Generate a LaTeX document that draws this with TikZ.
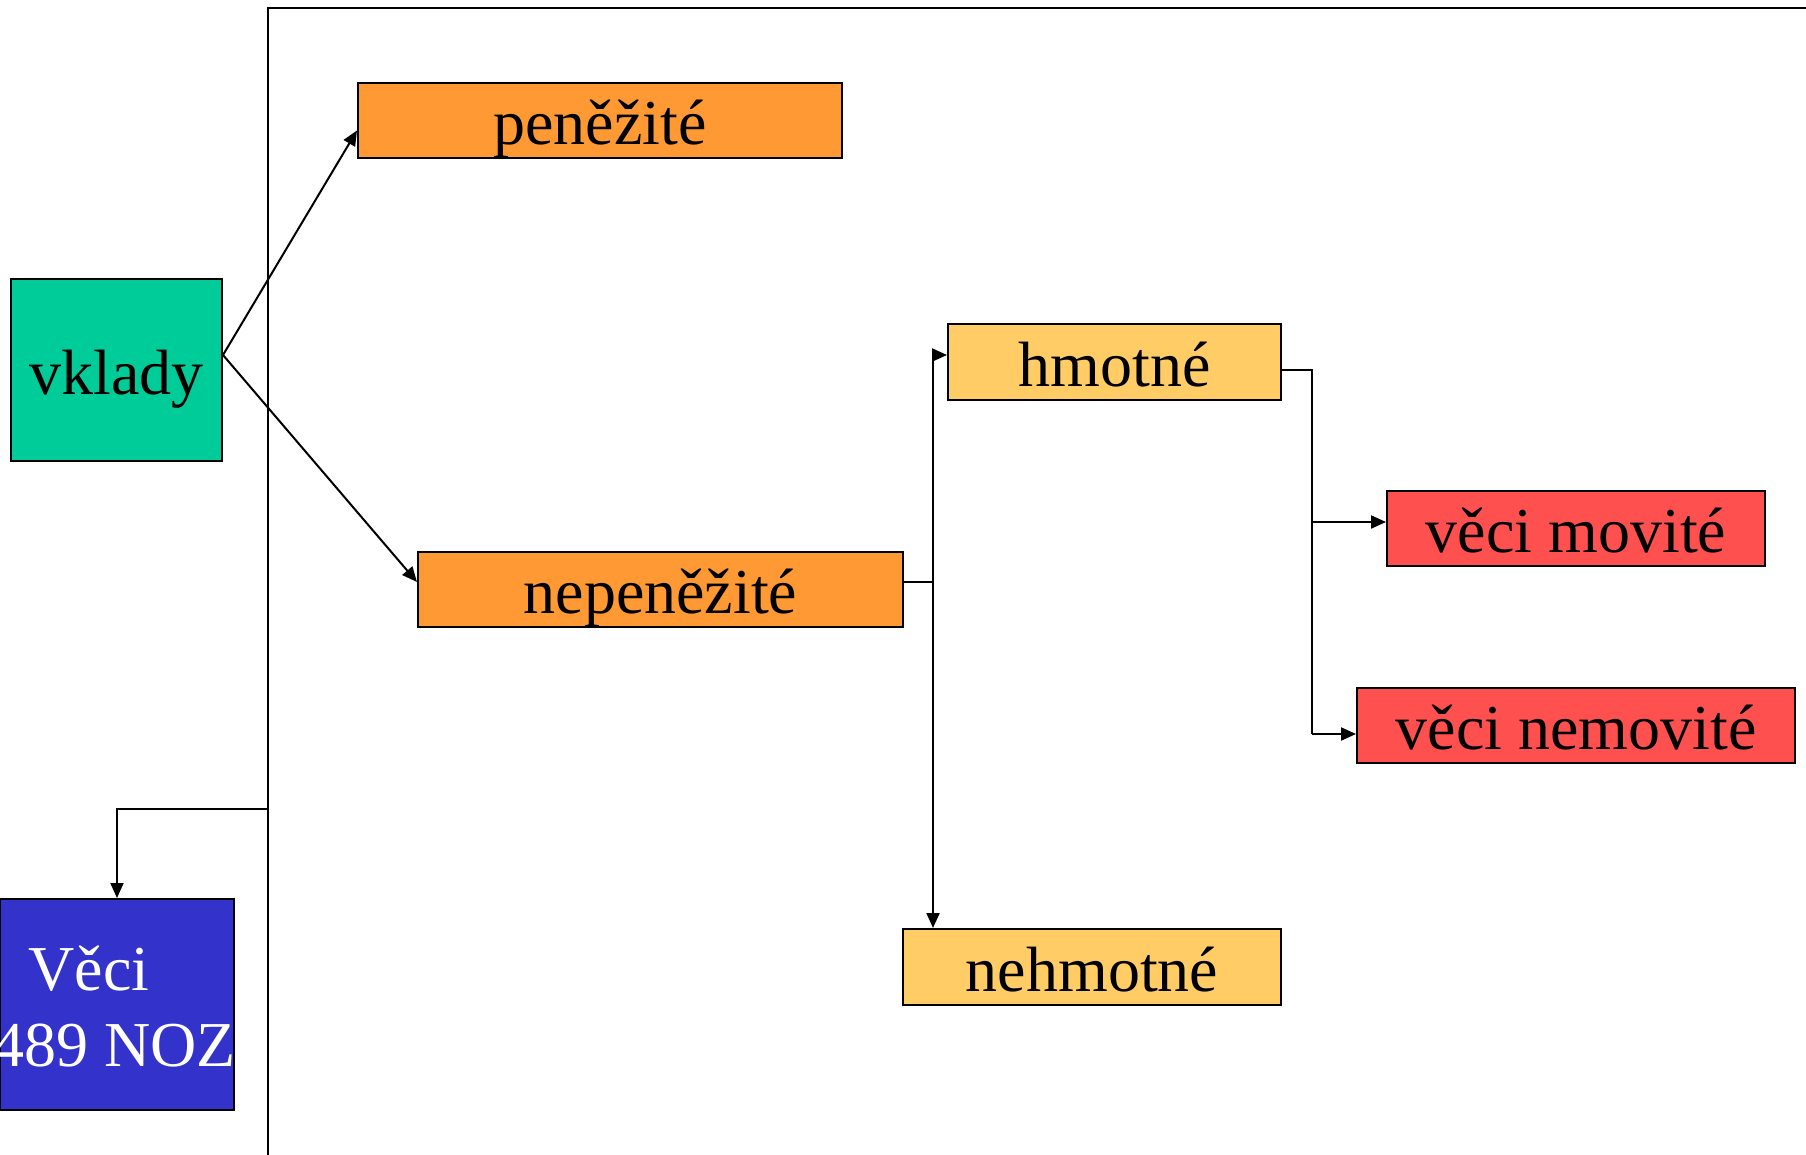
\documentclass[tikz,border=0pt]{standalone}
\usepackage{fontspec}
\setmainfont{Liberation Serif}
\usetikzlibrary{arrows.meta,calc}
\definecolor{cTeal}{HTML}{00CC99}
\definecolor{cOrange}{HTML}{FF9933}
\definecolor{cYellow}{HTML}{FFCC66}
\definecolor{cRed}{HTML}{FF5050}
\definecolor{cBlue}{HTML}{3333CC}
\begin{document}
\begin{tikzpicture}[x=1pt,y=-1pt,
  box/.style={draw=black,line width=2pt,inner sep=0pt,text height=48pt,text depth=0pt,
    font=\fontsize{64}{76}\selectfont},
  conn/.style={draw=black,line width=2pt},
  arr/.style={conn,-{Triangle[length=15pt,width=13pt]}},
  frameline/.style={draw=black,line width=2.5pt},
  lbl/.style={inner sep=0pt,font=\fontsize{64}{76}\selectfont}]
\useasboundingbox (0,0) rectangle (1806,1154);
% frame
\coordinate (FB) at (268,1160);
\coordinate (FT) at (268,8);
\coordinate (FR) at (1810,8);
\draw[frameline] (FB) -- (FT) -- (FR);
% boxes
\node[box,fill=cTeal,minimum width=211pt,minimum height=182pt] (vk) at (116.5,370) {vklady};
\node[box,fill=cOrange,minimum width=484pt,minimum height=75pt] (pen) at (600,120.5) {peněžité};
\node[box,fill=cOrange,minimum width=485pt,minimum height=75pt] (nep) at (660.5,589.5) {nepeněžité};
\node[box,fill=cYellow,minimum width=333pt,minimum height=76pt] (hm) at (1114.5,362) {hmotné};
\node[box,fill=cYellow,minimum width=378pt,minimum height=76pt] (neh) at (1092,967) {nehmotné};
\node[box,fill=cRed,minimum width=378pt,minimum height=75pt] (mov) at (1576,528.5) {věci movité};
\node[box,fill=cRed,minimum width=438pt,minimum height=75pt] (nemov) at (1576,725.5) {věci nemovité};
\node[box,fill=cBlue,minimum width=234pt,minimum height=211pt] (veci) at (117,1004.5) {};
\node[lbl,text=white,anchor=base] (veciA) at (89,990) {Věci};
\node[lbl,text=white,anchor=base east] (veciB) at (236,1066) {489 NOZ};
% connectors from vklady
\coordinate (vkO) at ($(vk.east)+(0,-15)$);
\draw[arr] (vkO) -- ($(pen.west)+(0,10)$);
\draw[arr] (vkO) -- ($(nep.west)+(0,-7.5)$);
% nepenezite -> hmotne / nehmotne
\coordinate (J1) at (933,582);
\draw[conn] ($(nep.east)+(0,-7.5)$) -- (J1);
\draw[arr] (J1) |- ($(hm.west)+(0,-7)$);
\draw[arr] (J1) -- (J1 |- neh.north);
% hmotne -> veci movite / nemovite
\coordinate (J2) at (1312,370);
\coordinate (B1) at (1312,522);
\coordinate (B2) at (1312,734);
\draw[conn] ($(hm.east)+(0,8)$) -- (J2) -- (B2);
\draw[arr] (B1) -- ($(mov.west)+(0,-6.5)$);
\draw[arr] (B2) -- ($(nemov.west)+(0,8.5)$);
% frame -> Veci
\coordinate (F1) at (268,809);
\draw[arr] (F1) -| (veci.north);
\end{tikzpicture}
\end{document}
